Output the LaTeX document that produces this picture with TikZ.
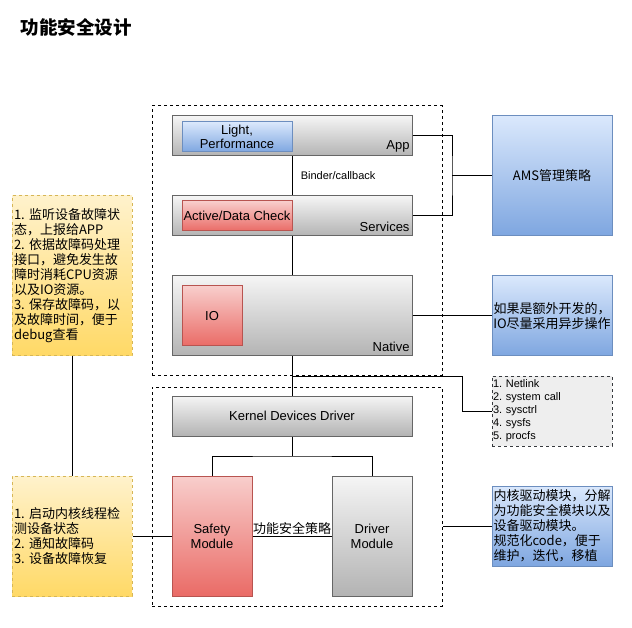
\documentclass[tikz,border=0pt]{standalone}
\usepackage{fontspec}
\setmainfont{Liberation Sans}
\newfontfamily\cjk{Noto Sans CJK SC}
\frenchspacing

\definecolor{graytop}{HTML}{F5F5F5}
\definecolor{graybot}{HTML}{B3B3B3}
\definecolor{grayedge}{HTML}{666666}
\definecolor{bluetop}{HTML}{DAE8FC}
\definecolor{bluebot}{HTML}{7EA6E0}
\definecolor{blueedge}{HTML}{6C8EBF}
\definecolor{redtop}{HTML}{F8CECC}
\definecolor{redbot}{HTML}{EA6B66}
\definecolor{rededge}{HTML}{B85450}
\definecolor{yeltop}{HTML}{FFF2CC}
\definecolor{yelbot}{HTML}{FFD966}
\definecolor{yeledge}{HTML}{D6B656}
\definecolor{listfill}{HTML}{EEEEEE}
\definecolor{listedge}{HTML}{36393D}

\tikzset{
  every node/.style={font=\fontsize{13}{15}\selectfont},
  zhtext/.style={font=\cjk\fontsize{13}{15}\selectfont},
  framebox/.style={draw, dashed, dash pattern=on 3pt off 3pt, minimum width=290pt, inner sep=0pt},
  layerbox/.style={draw=grayedge, top color=graytop, bottom color=graybot, minimum width=240pt, inner sep=0pt},
  bluebox/.style={draw=blueedge, top color=bluetop, bottom color=bluebot, inner sep=0pt},
  redbox/.style={draw=rededge, top color=redtop, bottom color=redbot, inner sep=0pt},
  graymod/.style={draw=grayedge, top color=graytop, bottom color=graybot, inner sep=0pt},
  yellownote/.style={draw=yeledge, dashed, top color=yeltop, bottom color=yelbot,
    text width=116pt, minimum height=#1, align=left, inner xsep=2pt, inner ysep=0pt, zhtext},
  sidelabel/.style={anchor=south east, inner xsep=2.5pt, inner ysep=4pt},
}

\begin{document}
\begin{tikzpicture}[x=1pt, y=-1pt, line width=1pt]
  \useasboundingbox (0,0) rectangle (632,628);

  \node[font=\cjk\bfseries\fontsize{18.5}{20}\selectfont] (title) at (76,27) {功能安全设计};

  % user space
  \node[framebox, minimum height=269pt] (upper) at (297,240.5) {};
  \node[layerbox, minimum height=40pt] (app) at (292,136) {};
  \node[sidelabel] (applbl) at (app.south east) {App};
  \node[bluebox, minimum width=110pt, minimum height=30pt, align=center,
        font=\fontsize{13}{14.5}\selectfont] (light) at (237,137) {Light,\\Performance};

  \node[layerbox, minimum height=40pt] (services) at (292,216) {};
  \node[sidelabel] (srvlbl) at (services.south east) {Services};
  \node[redbox, minimum width=110pt, minimum height=30pt] (check) at (237,216) {Active/Data Check};

  \node[layerbox, minimum height=80pt] (native) at (292,316) {};
  \node[sidelabel] (natlbl) at (native.south east) {Native};
  \node[redbox, minimum width=60pt, minimum height=60pt] (io) at (212,316) {IO};

  % kernel space
  \node[framebox, minimum height=219pt] (lower) at (297,496.5) {};
  \node[layerbox, minimum height=40pt] (kernel) at (292,416) {Kernel Devices Driver};
  \node[redbox, minimum width=80pt, minimum height=120pt, align=center] (safety) at (212,536) {Safety\\Module};
  \node[graymod, minimum width=80pt, minimum height=120pt, align=center] (driver) at (372,536) {Driver\\Module};

  % notes on the right
  \node[bluebox, minimum width=120pt, minimum height=120pt, zhtext] (ams) at (552,176) {AMS管理策略};
  \node[bluebox, minimum width=120pt, minimum height=80pt, align=center, zhtext] (ionote) at (552,316)
    {如果是额外开发的，\\IO尽量采用异步操作};
  \node[draw=listedge, dashed, fill=listfill, text width=118pt, minimum height=70pt, align=left,
        inner xsep=1pt, inner ysep=0pt, font=\fontsize{11}{13}\selectfont] (iflist) at (552,411)
    {1. Netlink\\2. system call\\3. sysctrl\\4. sysfs\\5. procfs};
  \node[bluebox, text width=117pt, minimum height=80pt, align=left, inner xsep=1.5pt, zhtext] (kernote) at (552,526)
    {内核驱动模块，分解\\为功能安全模块以及\\设备驱动模块。\\规范化code，便于\\维护，迭代，移植};

  % notes on the left
  \node[yellownote=160pt] (note1) at (72,276)
    {1. 监听设备故障状\\态，上报给APP\\2. 依据故障码处理\\接口，避免发生故\\障时消耗CPU资源\\以及IO资源。\\3. 保存故障码，以\\及故障时间，便于\\debug查看};
  \node[yellownote=120pt] (note2) at (72,536)
    {1. 启动内核线程检\\测设备状态\\2. 通知故障码\\3. 设备故障恢复};

  % connectors
  \coordinate (amsjoin) at (452,176);
  \coordinate (nbranch) at (292,376);
  \coordinate (ifturn) at (462,411);
  \coordinate (ksplit) at (292,456);

  \draw (app) -- node[right=5pt, font=\fontsize{11}{13}\selectfont] (binder) {Binder/callback} (services);
  \draw (services) -- (native);
  \draw (native) -- (kernel);
  \draw (app.east) -| (amsjoin) |- (services.east);
  \draw (amsjoin) -- (ams.west);
  \draw (native.east) -- (ionote.west);
  \draw (nbranch) -| (ifturn) -- (iflist.west);
  \draw (kernel.south) -- (ksplit);
  \draw (safety.north) |- (ksplit) -| (driver.north);
  \draw (safety.east) -- node[above, inner sep=1pt, zhtext] (policy) {功能安全策略} (driver.west);
  \draw (note1.south) -- (note2.north);
  \draw (note2.east) -- (safety.west);
  \draw (kernote.west) -- (kernote.west -| lower.east);
\end{tikzpicture}
\end{document}
